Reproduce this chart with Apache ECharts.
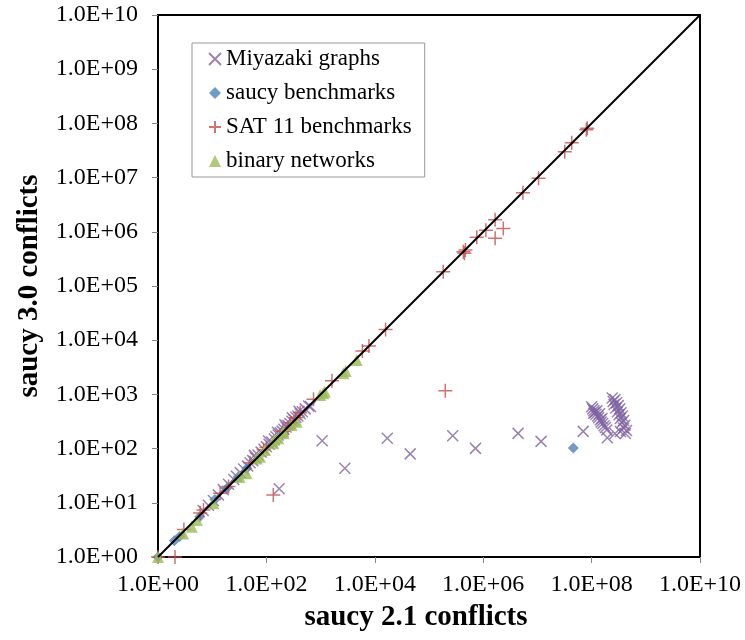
<!DOCTYPE html>
<html lang="en">
  <head>
    <meta charset="UTF-8" />
    <title>saucy conflicts</title>
    <style>
      html, body { margin: 0; padding: 0; background: #fff; }
      #chart { width: 745px; height: 640px; }
    </style>
  </head>
  <body>
    <div id="chart"></div>
    <script src="https://cdn.jsdelivr.net/npm/echarts@6/dist/echarts.min.js"></script>
    <script>
      // [saucy 2.1 conflicts, saucy 3.0 conflicts]
      var miyazaki = [
        [6.8, 7.2], [8.5, 9], [10.5, 11], [13, 14], [16, 17.5], [20, 22], [25, 27], [28, 31],
        [33, 36], [38, 42], [45, 48], [50, 55], [56, 60], [60, 75], [63, 68], [70, 76], [80, 86],
        [90, 97], [100, 108], [110, 138], [112, 120], [125, 132], [140, 150], [150, 165],
        [160, 200], [165, 178], [180, 195], [195, 210], [210, 228], [220, 275], [230, 250],
        [250, 270], [270, 290], [295, 320], [300, 370], [320, 345], [350, 380], [380, 400],
        [400, 490], [420, 440], [460, 480], [520, 540], [600, 610], [650, 600],
        [172, 18.2], [1070, 140], [2800, 43.3], [1.7e4, 155], [4.5e4, 80], [2.74e5, 173],
        [7.2e5, 101], [4.4e6, 191], [1.17e7, 136], [7.0e7, 208],
        [1.0e8, 590], [1.05e8, 540], [1.1e8, 500], [1.15e8, 470], [1.1e8, 450], [1.2e8, 430],
        [1.25e8, 500], [1.3e8, 400], [1.35e8, 370], [1.4e8, 440], [1.45e8, 340], [1.5e8, 310],
        [1.55e8, 360], [1.6e8, 290], [1.7e8, 265], [1.8e8, 245], [1.9e8, 220], [1.95e8, 158],
        [2.7e8, 190], [3.4e8, 207],
        [2.4e8, 860], [2.7e8, 800], [2.5e8, 740], [2.9e8, 700], [2.6e8, 650], [3.1e8, 620],
        [2.8e8, 560], [3.3e8, 540], [3.0e8, 480], [3.5e8, 460], [3.2e8, 420], [3.7e8, 400],
        [3.4e8, 360], [3.9e8, 330], [3.6e8, 300], [4.1e8, 270], [3.9e8, 240], [4.4e8, 215],
        [4.2e8, 190]
      ];
      var saucyBench = [
        [1, 1], [2.0, 2.0], [2.5, 2.4], [5.9, 5.5], [11.2, 11.5], [18.6, 18.6], [30, 30],
        [43.6, 43.6], [4.6e7, 103]
      ];
      var sat11 = [
        [1, 1], [2.06, 1], [3, 3.2], [6, 6.5], [6.9, 7.4], [14, 15], [20, 20], [50, 55],
        [89, 95], [100, 105], [134, 13.9], [200, 210], [250, 240], [280, 300], [350, 370],
        [420, 457], [740, 810], [1620, 1780], [5900, 6300], [7800, 7800], [15800, 15800],
        [1.83e5, 1.83e5], [2.0e5, 1170], [4.3e5, 4.3e5], [4.5e5, 4.0e5], [4.7e5, 4.6e5],
        [7.6e5, 7.9e5], [1.12e6, 1.07e6], [1.66e6, 1.66e6], [1.66e6, 7.6e5], [2.35e6, 1.15e6],
        [5.4e6, 5.25e6], [1.05e7, 9.7e6], [3.2e7, 3.0e7], [4.3e7, 4.4e7], [8.3e7, 8.1e7],
        [8.0e7, 7.6e7]
      ];
      var binaryNets = [
        [1, 1], [2.9, 2.7], [4.2, 3.6], [5.2, 4.8], [10.5, 9.8], [32, 30], [43, 35], [66, 66],
        [76, 71], [94, 94], [134, 125], [140, 145], [166, 155], [206, 191], [206, 206],
        [292, 273], [363, 314], [980, 980], [1120, 1050], [1200, 1120], [2630, 2450],
        [2900, 2700], [4650, 4300]
      ];
      var diagonal = [[1, 1], [1e10, 1e10]];

      var font = 'Liberation Serif';
      function sci(v) {
        var e = Math.round(Math.log10(v));
        return '1.0E+' + (e < 10 ? '0' + e : e);
      }
      var crossPath = 'path://M0,0L10,10M0,10L10,0';
      var plusPath = 'path://M5,0L5,10M0,5L10,5';

      var chart = echarts.init(document.getElementById('chart'));
      chart.setOption({
        animation: false,
        grid: {
          left: 158, right: 45, top: 15, bottom: 83,
          show: true, borderColor: '#000', borderWidth: 2, backgroundColor: '#fff'
        },
        legend: {
          orient: 'vertical',
          left: 192, top: 43,
          padding: [4, 13, 4, 16],
          itemGap: 10,
          itemWidth: 12, itemHeight: 12,
          borderColor: '#999', borderWidth: 1,
          backgroundColor: '#fff',
          textStyle: { fontFamily: font, fontSize: 23, color: '#000', lineHeight: 24 },
          data: ['Miyazaki graphs', 'saucy benchmarks', 'SAT 11 benchmarks', 'binary networks']
        },
        xAxis: {
          type: 'log', logBase: 10, min: 1, max: 1e10, interval: 2,
          name: 'saucy 2.1 conflicts', nameLocation: 'middle', nameGap: 46,
          nameTextStyle: { fontFamily: font, fontSize: 29, fontWeight: 'bold', color: '#000', padding: [0, 26, 0, 0] },
          axisLine: { lineStyle: { color: '#000', width: 2 } },
          axisTick: { length: 6, lineStyle: { color: '#888' } },
          axisLabel: { fontFamily: font, fontSize: 24, color: '#000', margin: 16, formatter: sci },
          splitLine: { show: false }
        },
        yAxis: {
          type: 'log', logBase: 10, min: 1, max: 1e10, interval: 1,
          name: 'saucy 3.0 conflicts', nameLocation: 'middle', nameGap: 114,
          nameTextStyle: { fontFamily: font, fontSize: 29, fontWeight: 'bold', color: '#000' },
          axisLine: { lineStyle: { color: '#000', width: 2 } },
          axisTick: { length: 6, lineStyle: { color: '#888' } },
          axisLabel: { fontFamily: font, fontSize: 24, color: '#000', margin: 20, formatter: sci },
          splitLine: { show: false }
        },
        series: [
          {
            type: 'line', data: diagonal, symbol: 'none', silent: true,
            lineStyle: { color: '#000', width: 2 }
          },
          {
            name: 'Miyazaki graphs', type: 'scatter', data: miyazaki,
            symbol: crossPath, symbolSize: 11,
            itemStyle: { color: 'rgba(0,0,0,0)', borderColor: '#8064A2', borderWidth: 1.5 }
          },
          {
            name: 'saucy benchmarks', type: 'scatter', data: saucyBench,
            symbol: 'diamond', symbolSize: 11,
            itemStyle: { color: '#4F81BD' }
          },
          {
            name: 'SAT 11 benchmarks', type: 'scatter', data: sat11,
            symbol: plusPath, symbolSize: 14,
            itemStyle: { color: 'rgba(0,0,0,0)', borderColor: '#C0504D', borderWidth: 1.5 }
          },
          {
            name: 'binary networks', type: 'scatter', data: binaryNets,
            symbol: 'triangle', symbolSize: 12,
            itemStyle: { color: '#9BBB59' }
          }
        ]
      });
    </script>
  </body>
</html>
